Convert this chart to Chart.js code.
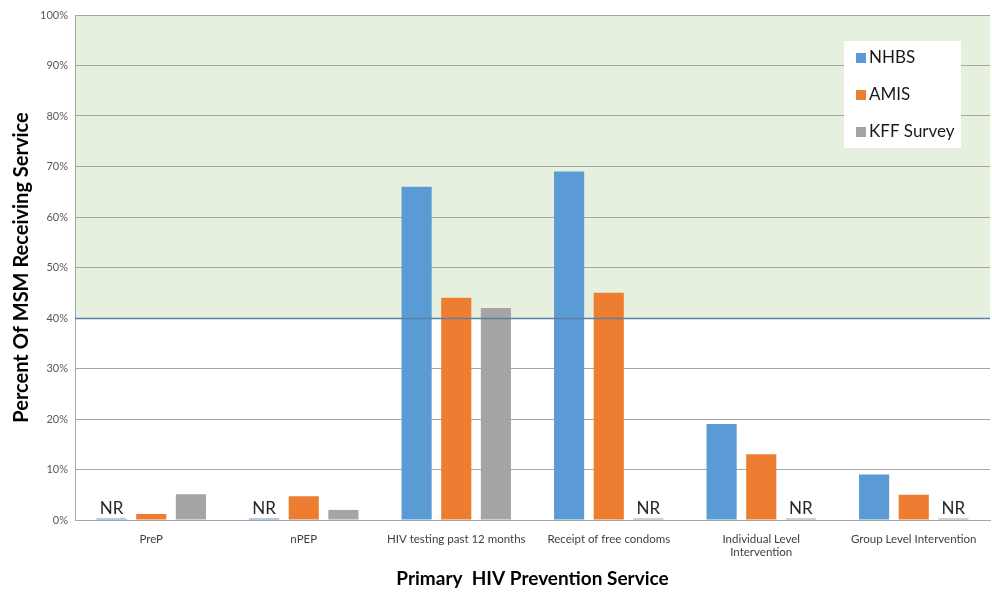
<!DOCTYPE html>
<html>
<head>
<meta charset="utf-8">
<script src="https://cdn.jsdelivr.net/npm/chart.js@4/dist/chart.umd.min.js"></script>
<style>
html,body{margin:0;padding:0;background:#fff;}
#wrap{width:992px;height:592px;position:relative;}
</style>
</head>
<body>
<div id="wrap"><canvas id="c" width="992" height="592"></canvas></div>
<script>
const categories = ["PreP", "nPEP", "HIV testing past 12 months", "Receipt of free condoms", ["Individual Level", "Intervention"], "Group Level Intervention"];
const nhbs = [0.3, 0.3, 66, 69, 19, 9];
const amis = [1.2, 4.7, 44, 45, 13, 5];
const kff  = [5.1, 2, 42, 0.3, 0.3, 0.3];
const nhbsNR = [true, true, false, false, false, false];
const amisNR = [false, false, false, false, false, false];
const kffNR  = [false, false, false, true, true, true];
const yTicks = [0,10,20,30,40,50,60,70,80,90,100];
const FONT = "Lato, 'Open Sans', sans-serif";

const bgPlugin = {
  id: 'bg',
  beforeDraw(chart) {
    const {ctx, chartArea: a, scales: {y}} = chart;
    const y40 = y.getPixelForValue(40), y100 = y.getPixelForValue(100);
    ctx.save();
    ctx.fillStyle = '#E6F0DE';
    ctx.fillRect(a.left, y100, a.right - a.left, y40 - y100);
    ctx.restore();
  },
  afterDatasetsDraw(chart) {
    const {ctx, chartArea: a, scales: {y}} = chart;
    const y40 = Math.round(y.getPixelForValue(40)) + 0.5;
    ctx.save();
    ctx.strokeStyle = '#5A7FA6';
    ctx.lineWidth = 1.6;
    ctx.beginPath(); ctx.moveTo(a.left, y40); ctx.lineTo(a.right, y40); ctx.stroke();
    // NR labels
    ctx.fillStyle = '#262626';
    ctx.font = "17px " + FONT;
    ctx.textAlign = 'center';
    ctx.textBaseline = 'alphabetic';
    chart.data.datasets.forEach((ds, di) => {
      const meta = chart.getDatasetMeta(di);
      ds.nr.forEach((flag, i) => {
        if (flag) {
          const el = meta.data[i];
          ctx.fillText('NR', el.x, el.y - 4);
        }
      });
    });
    // legend
    const lx = 844, ly = 41, lw = 117, lh = 107;
    ctx.fillStyle = '#ffffff';
    ctx.fillRect(lx, ly, lw, lh);
    ctx.font = "17px " + FONT;
    ctx.textAlign = 'left';
    ctx.textBaseline = 'middle';
    chart.data.datasets.forEach((ds, di) => {
      const cy = 58 + di * 37;
      ctx.fillStyle = ds.backgroundColor;
      ctx.fillRect(856, cy - 5, 10, 10);
      ctx.fillStyle = '#1a1a1a';
      ctx.fillText(ds.label, 869, cy);
    });
    ctx.restore();
  }
};

new Chart(document.getElementById('c'), {
  type: 'bar',
  data: {
    labels: categories,
    datasets: [
      {label: 'NHBS', data: nhbs, nr: nhbsNR, backgroundColor: '#5B9BD5'},
      {label: 'AMIS', data: amis, nr: amisNR, backgroundColor: '#ED7D31'},
      {label: 'KFF Survey', data: kff, nr: kffNR, backgroundColor: '#A5A5A5'}
    ]
  },
  options: {
    responsive: false,
    animation: false,
    maintainAspectRatio: false,
    layout: {padding: {top: 15, right: 2, left: 0, bottom: 0}},
    datasets: {bar: {categoryPercentage: 0.78, barPercentage: 0.76}},
    plugins: {legend: {display: false}, tooltip: {enabled: false}},
    scales: {
      x: {
        grid: {display: false, drawTicks: false},
        border: {color: '#A6A6A6', width: 1},
        ticks: {color: '#404040', font: {size: 11.5, family: FONT}, padding: 12, maxRotation: 0, autoSkip: false},
        title: {display: true, text: 'Primary  HIV Prevention Service', color: '#000', font: {size: 19, weight: 'bold', family: FONT}, padding: {top: 12, bottom: 2}},
        afterFit(s) { s.height = 72; }
      },
      y: {
        min: 0, max: 100,
        afterBuildTicks(s) { s.ticks = yTicks.map(v => ({value: v})); },
        grid: {color: '#A6A6A6', drawTicks: false},
        border: {color: '#A6A6A6', width: 1},
        ticks: {color: '#595959', font: {size: 11, family: FONT}, padding: 7, callback: v => v + '%'},
        title: {display: true, text: 'Percent Of MSM Receiving Service', color: '#000', font: {size: 20, weight: 'bold', family: FONT}, padding: {top: 10, bottom: 4}},
        afterFit(s) { s.width = 75; }
      }
    }
  },
  plugins: [bgPlugin]
});
</script>
</body>
</html>
